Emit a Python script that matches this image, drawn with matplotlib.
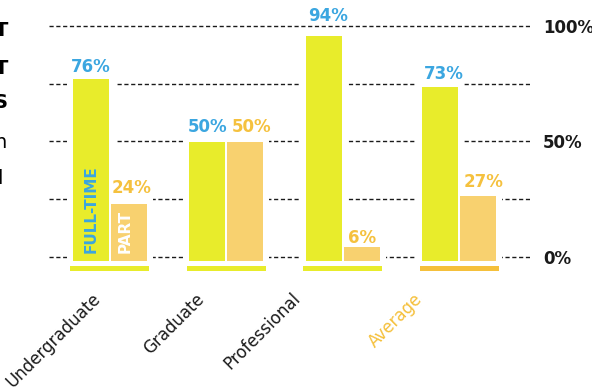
"""Full-time vs part-time enrolment share by level, drawn to out.png."""

import matplotlib

matplotlib.use("Agg")
import matplotlib.pyplot as plt

# data
levels = ["Undergraduate", "Graduate", "Professional", "Average"]
full_time = [76, 50, 94, 73]
part_time = [24, 50, 6, 27]
grid_levels = [0, 25, 50, 75, 100]
right_ticks = [0, 50, 100]
right_tick_labels = ["0%", "50%", "100%"]
cut_text = ["T", "T", "S", "n", "l"]

# colours
FT_BAR = "#E8EC2B"
PT_BAR = "#F8D16F"
FT_TEXT = "#3BA6E0"
PT_TEXT = "#F5C13E"
AVG_LINE = "#F5C03B"
INK = "#1A1A1A"

DPI = 100
PT = 72 / DPI  # points per pixel

# layout (pixels)
label_dx_px = [-12, -25, -45, -40]
ft_pad_px = [7, 9, 15, 8]
pt_pad_px = [11, 9, 4, 9]
ft_dx_px = [0, 0, 4, 3]
pt_dx_px = [3, 6, 0, 5]
cut_y_px = [31, 68, 103, 142, 178]
cut_x_px = [8, 8, 8, 7, 3]
cut_bold = [True, True, True, False, False]

fig = plt.figure(figsize=(5.92, 3.91), dpi=DPI)
ax = fig.add_axes([49 / 592, (391 - 275) / 391, 481 / 592, 255 / 391])
ax.set_xlim(-0.52, 3.605)
ax.set_ylim((256.5 - 275) / 2.305, (256.5 - 20) / 2.305)

for g in grid_levels:
    ax.axhline(g, color=INK, lw=1.0, ls=(0, (3, 1.9)), zorder=1)

ax.set_xticks([])
for s in ax.spines.values():
    s.set_visible(False)

# bars live on a twin axis so the white halo can cut the dashed grid
ax2 = ax.twinx()
ax2.set_ylim((261 - 275) / 2.39, (261 - 20) / 2.39)
ax2.set_yticks([])
for s in ax2.spines.values():
    s.set_visible(False)

# twinx moves the host ticks to the left, so put them back on the right
ax.yaxis.tick_right()
ax.set_yticks(right_ticks)
ax.set_yticklabels(right_tick_labels, fontsize=12, fontweight="bold", color=INK)
ax.tick_params(axis="y", length=0, pad=13 * PT)

x = list(range(len(levels)))
w = 0.309
off = 0.163
x_ft = [i - off for i in x]
x_pt = [i + off for i in x]

halo = 12 * PT
ax2.bar(x_ft, full_time, w, color="white", edgecolor="white", lw=halo, zorder=2)
ax2.bar(x_pt, part_time, w, color="white", edgecolor="white", lw=halo, zorder=2)
ax2.bar(x_ft, full_time, w, color=FT_BAR, lw=0, zorder=3)
ax2.bar(x_pt, part_time, w, color=PT_BAR, lw=0, zorder=3)

# underline strips below each group
strip_colors = [FT_BAR, FT_BAR, FT_BAR, AVG_LINE]
ax2.bar(x, [5 / 2.39] * len(x), 0.68, bottom=-10 / 2.39,
        color=strip_colors, lw=0, zorder=4, clip_on=False)

for i in x:
    ax2.annotate(f"{full_time[i]}%", (x_ft[i], full_time[i]),
                 xytext=(ft_dx_px[i] * PT, ft_pad_px[i] * PT), textcoords="offset points",
                 ha="center", va="baseline", fontsize=12, fontweight="bold",
                 color=FT_TEXT, zorder=5)
    ax2.annotate(f"{part_time[i]}%", (x_pt[i], part_time[i]),
                 xytext=(pt_dx_px[i] * PT, pt_pad_px[i] * PT), textcoords="offset points",
                 ha="center", va="baseline", fontsize=12, fontweight="bold",
                 color=PT_TEXT, zorder=5)

# in-bar legend words
ax2.annotate("FULL-TIME", (x_ft[0], 0), xytext=(0, 8 * PT), textcoords="offset points",
             rotation=90, rotation_mode="anchor", ha="left", va="center",
             fontsize=11, fontweight="bold", color=FT_TEXT, zorder=5)
ax2.annotate("PART", (x_pt[0], 0), xytext=(-4 * PT, 8 * PT), textcoords="offset points",
             rotation=90, rotation_mode="anchor", ha="left", va="center",
             fontsize=11, fontweight="bold", color="white", zorder=5)

# rotated category labels
for i, name in enumerate(levels):
    col = AVG_LINE if name == "Average" else INK
    ax2.annotate(name, (i, 0), xycoords=("data", "axes fraction"),
                 xytext=(label_dx_px[i] * PT, -21 * PT), textcoords="offset points",
                 rotation=45, rotation_mode="anchor", ha="right", va="center",
                 fontsize=12, color=col, annotation_clip=False)

# clipped edge of the neighbouring text panel
for ch, yy, xx, b in zip(cut_text, cut_y_px, cut_x_px, cut_bold):
    fig.text(xx / 592, 1 - yy / 391, ch, ha="right", va="center", fontsize=14,
             fontweight="bold" if b else "normal", color="black")

fig.savefig("out.png", dpi=DPI)
